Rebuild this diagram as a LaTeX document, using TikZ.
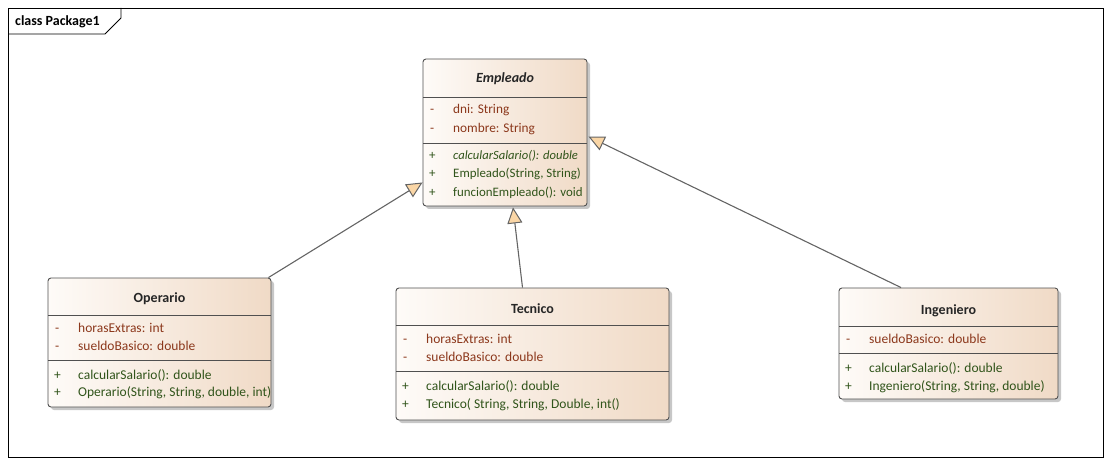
\documentclass[tikz,border=0pt]{standalone}
\usepackage{fontspec}
\setmainfont{Carlito}
\usetikzlibrary{arrows.meta,shadows,calc}
\definecolor{attrc}{RGB}{140,56,28}
\definecolor{methc}{RGB}{48,84,26}
\definecolor{tanR}{RGB}{240,218,198}
\definecolor{tanL}{RGB}{254,251,248}
\definecolor{arrfill}{RGB}{250,214,166}
\definecolor{linec}{RGB}{100,100,100}
\definecolor{boxline}{RGB}{80,80,80}
\begin{document}
\begin{tikzpicture}[x=1pt,y=-1pt,
  classbox/.style={draw=boxline, line width=0.9pt, rounded corners=3pt,
    left color=tanL, right color=tanR, inner sep=0pt,
    drop shadow={shadow xshift=3pt, shadow yshift=-3pt, fill=black, opacity=0.22}},
  divider/.style={draw=boxline, line width=0.9pt},
  ctitle/.style={font=\fontsize{14}{16}\selectfont\bfseries, text=black!85, inner sep=0pt, anchor=base},
  attr/.style={font=\fontsize{13.5}{16}\selectfont, text=attrc, inner sep=0pt, anchor=base west},
  meth/.style={font=\fontsize{13.5}{16}\selectfont, text=methc, inner sep=0pt, anchor=base west},
  eattr/.style={attr, font=\fontsize{13.3}{16}\selectfont},
  emeth/.style={meth, font=\fontsize{12.9}{16}\selectfont},
  gen/.style={draw=linec, line width=1.1pt, -{Triangle[length=16pt,width=15pt,fill=arrfill,line width=1pt]}},
]
\useasboundingbox (0,0) rectangle (1111,465);
% frame
\draw[line width=0.9pt] (8,8) rectangle (1103,457);
\draw[line width=0.9pt] (8,34) -- (105,34) -- (121,18) -- (121,8);
\node[font=\fontsize{14}{16}\selectfont\bfseries, anchor=base west, inner sep=0pt] (pkg) at (15,26) {class Package1};

% Empleado
\node[classbox, minimum width=164pt, minimum height=147pt] (emp) at (505,132.5) {};
\draw[divider] (423,97) -- (587,97);
\draw[divider] (423,143) -- (587,143);
\node[ctitle, font=\fontsize{14}{16}\selectfont\bfseries\itshape] (empT) at (505,83) {Empleado};
\node[eattr] (e1a) at (430,114) {-};
\node[eattr] (e1b) at (453,114) {dni: String};
\node[eattr] (e2a) at (430,133) {-};
\node[eattr] (e2b) at (453,133) {nombre: String};
\node[emeth] (e3a) at (429,160) {+};
\node[emeth, font=\fontsize{12.6}{16}\selectfont\itshape] (e3b) at (453,160) {calcularSalario(): double};
\node[emeth] (e4a) at (429,178) {+};
\node[emeth] (e4b) at (453,178) {Empleado(String, String)};
\node[emeth] (e5a) at (429,197) {+};
\node[emeth] (e5b) at (453,197) {funcionEmpleado(): void};

% Operario
\node[classbox, minimum width=223pt, minimum height=129pt] (op) at (159.5,342.5) {};
\draw[divider] (48,315) -- (271,315);
\draw[divider] (48,360) -- (271,360);
\node[ctitle] (opT) at (159.5,302) {Operario};
\node[attr] (o1a) at (55,332) {-};
\node[attr] (o1b) at (78,332) {horasExtras: int};
\node[attr] (o2a) at (55,350) {-};
\node[attr] (o2b) at (78,350) {sueldoBasico: double};
\node[meth] (o3a) at (54,379) {+};
\node[meth] (o3b) at (78,379) {calcularSalario(): double};
\node[meth] (o4a) at (54,396) {+};
\node[meth] (o4b) at (78,396) {Operario(String, String, double, int)};

% Tecnico
\node[classbox, minimum width=273pt, minimum height=132pt] (tec) at (532.5,354) {};
\draw[divider] (396,325) -- (669,325);
\draw[divider] (396,371) -- (669,371);
\node[ctitle] (tecT) at (532.5,313) {Tecnico};
\node[attr] (t1a) at (403,343) {-};
\node[attr] (t1b) at (426,343) {horasExtras: int};
\node[attr] (t2a) at (403,361) {-};
\node[attr] (t2b) at (426,361) {sueldoBasico: double};
\node[meth] (t3a) at (402,390) {+};
\node[meth] (t3b) at (426,390) {calcularSalario(): double};
\node[meth] (t4a) at (402,408) {+};
\node[meth] (t4b) at (426,408) {Tecnico( String, String, Double, int()};

% Ingeniero
\node[classbox, minimum width=219pt, minimum height=111pt] (ing) at (948.5,343.5) {};
\draw[divider] (839,326) -- (1058,326);
\draw[divider] (839,353) -- (1058,353);
\node[ctitle] (ingT) at (948.5,314) {Ingeniero};
\node[attr] (i1a) at (846,343) {-};
\node[attr] (i1b) at (869,343) {sueldoBasico: double};
\node[meth] (i2a) at (845,372) {+};
\node[meth] (i2b) at (869,372) {calcularSalario(): double};
\node[meth] (i3a) at (845,390) {+};
\node[meth] (i3b) at (869,390) {Ingeniero(String, String, double)};

% generalizations
\draw[gen] ([xshift=-3pt]op.north east) -- ([yshift=24pt]emp.south west);
\draw[gen] ([xshift=-10pt]tec.north) -- ([xshift=8pt,yshift=-1pt]emp.south);
\draw[gen] ([xshift=-47.5pt]ing.north) -- ([xshift=1pt,yshift=-4pt]emp.east);
\end{tikzpicture}
\end{document}
